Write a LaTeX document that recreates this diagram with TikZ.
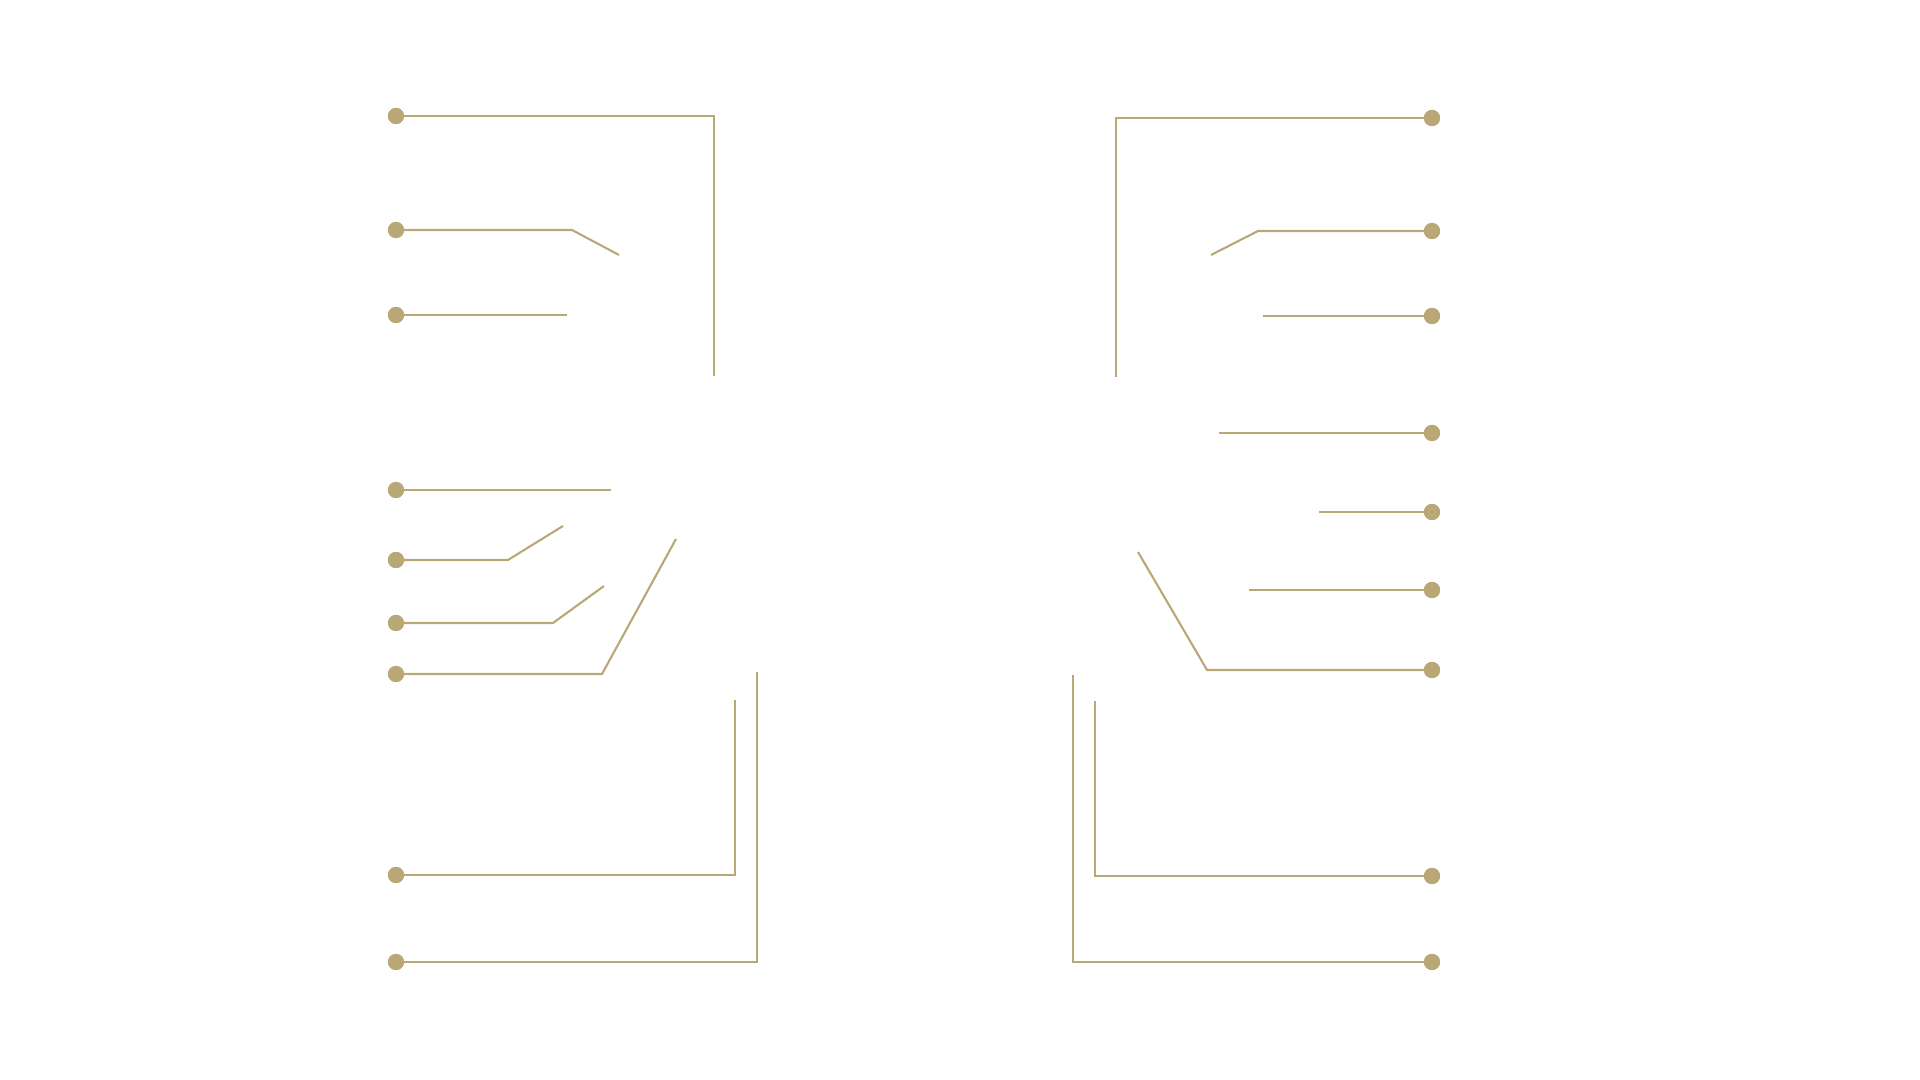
\documentclass[tikz,border=0pt]{standalone}
\definecolor{gold}{RGB}{185,168,118}
\tikzset{
  dot/.style={circle,fill=gold,inner sep=0pt,minimum size=4.6pt},
  leader/.style={draw=gold,line width=0.6pt}
}
\begin{document}
\begin{tikzpicture}[x=0.01cm,y=-0.01cm]
\useasboundingbox (0,0) rectangle (1920,1080);
% left dots
\node[dot] (L1) at (396,116) {};
\node[dot] (L2) at (396,230) {};
\node[dot] (L3) at (396,315) {};
\node[dot] (L4) at (396,490) {};
\node[dot] (L5) at (396,560) {};
\node[dot] (L6) at (396,623) {};
\node[dot] (L7) at (396,674) {};
\node[dot] (L8) at (396,875) {};
\node[dot] (L9) at (396,962) {};
% right dots
\node[dot] (R1) at (1432,118) {};
\node[dot] (R2) at (1432,231) {};
\node[dot] (R3) at (1432,316) {};
\node[dot] (R4) at (1432,433) {};
\node[dot] (R5) at (1432,512) {};
\node[dot] (R6) at (1432,590) {};
\node[dot] (R7) at (1432,670) {};
\node[dot] (R8) at (1432,876) {};
\node[dot] (R9) at (1432,962) {};
% free ends
\coordinate (l1e) at (714,376);
\coordinate (l2e) at (619,255);
\coordinate (l3e) at (567,315);
\coordinate (l4e) at (611,490);
\coordinate (l5e) at (563,526);
\coordinate (l6e) at (604,586);
\coordinate (l7e) at (676,539);
\coordinate (l8e) at (735,700);
\coordinate (l9e) at (757,672);
\coordinate (r1e) at (1116,377);
\coordinate (r2e) at (1211,255);
\coordinate (r3e) at (1263,316);
\coordinate (r4e) at (1219,433);
\coordinate (r5e) at (1319,512);
\coordinate (r6e) at (1249,590);
\coordinate (r7e) at (1138,552);
\coordinate (r8e) at (1095,701);
\coordinate (r9e) at (1073,675);
% left leaders
\draw[leader] (L1.center) -- (714,116) -- (l1e);
\draw[leader] (L2.center) -- (572,230) -- (l2e);
\draw[leader] (L3.center) -- (l3e);
\draw[leader] (L4.center) -- (l4e);
\draw[leader] (L5.center) -- (508,560) -- (l5e);
\draw[leader] (L6.center) -- (553,623) -- (l6e);
\draw[leader] (L7.center) -- (602,674) -- (l7e);
\draw[leader] (L8.center) -- (735,875) -- (l8e);
\draw[leader] (L9.center) -- (757,962) -- (l9e);
% right leaders
\draw[leader] (R1.center) -- (1116,118) -- (r1e);
\draw[leader] (R2.center) -- (1258,231) -- (r2e);
\draw[leader] (R3.center) -- (r3e);
\draw[leader] (R4.center) -- (r4e);
\draw[leader] (R5.center) -- (r5e);
\draw[leader] (R6.center) -- (r6e);
\draw[leader] (R7.center) -- (1207,670) -- (r7e);
\draw[leader] (R8.center) -- (1095,876) -- (r8e);
\draw[leader] (R9.center) -- (1073,962) -- (r9e);
% redraw dots on top
\foreach \n in {L1,L2,L3,L4,L5,L6,L7,L8,L9,R1,R2,R3,R4,R5,R6,R7,R8,R9}
  \fill[gold] (\n.center) circle (2.3pt);
\end{tikzpicture}
\end{document}
